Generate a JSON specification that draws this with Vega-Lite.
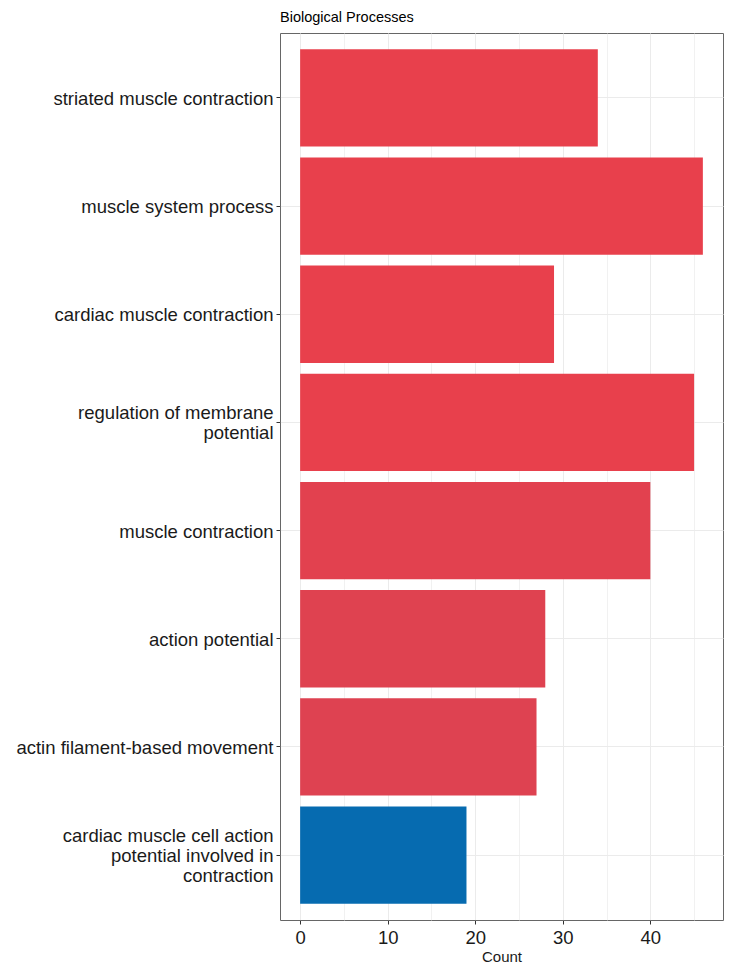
{
  "$schema": "https://vega.github.io/schema/vega-lite/v6.json",
  "width": 443,
  "height": 887,
  "autosize": {"type": "none"},
  "padding": {"left": 280, "top": 33, "right": 7, "bottom": 46},
  "background": "white",
  "title": {
    "text": "Biological Processes",
    "anchor": "start",
    "frame": "group",
    "font": "Liberation Sans",
    "fontSize": 14.5,
    "fontWeight": "normal",
    "color": "#000000",
    "offset": 8
  },
  "data": {
    "values": [
      {"Description": "striated muscle contraction", "Count": 34, "p_adjust": 0.0},
      {"Description": "muscle system process", "Count": 46, "p_adjust": 0.0},
      {"Description": "cardiac muscle contraction", "Count": 29, "p_adjust": 0.0},
      {"Description": "regulation of membrane\npotential", "Count": 45, "p_adjust": 0.0},
      {"Description": "muscle contraction", "Count": 40, "p_adjust": 0.025},
      {"Description": "action potential", "Count": 28, "p_adjust": 0.04},
      {"Description": "actin filament-based movement", "Count": 27, "p_adjust": 0.045},
      {"Description": "cardiac muscle cell action\npotential involved in\ncontraction", "Count": 19, "p_adjust": 1.0}
    ]
  },
  "mark": {"type": "bar"},
  "encoding": {
    "y": {
      "field": "Description",
      "type": "nominal",
      "sort": null,
      "scale": {"paddingInner": 0.1, "paddingOuter": 0.15},
      "axis": {
        "title": null,
        "domain": false,
        "bandPosition": 0.5,
        "grid": true,
        "gridColor": "#EBEBEB",
        "gridWidth": 1,
        "ticks": true,
        "tickSize": 4,
        "tickColor": "#333333",
        "labelFont": "Liberation Sans",
        "labelFontSize": 18.5,
        "labelColor": "#1a1a1a",
        "labelPadding": 3,
        "labelLimit": 400,
        "labelLineHeight": 20,
        "labelExpr": "split(datum.label, '\\n')",
        "labelOffset": {
          "condition": [
            {"test": "indexof(datum.value, 'involved') >= 0", "value": -19},
            {"test": "indexof(datum.value, 'membrane') >= 0", "value": -9}
          ],
          "value": 1
        }
      }
    },
    "x": {
      "field": "Count",
      "type": "quantitative",
      "scale": {"domain": [-2.3, 48.3], "nice": false, "zero": false},
      "axis": {
        "title": "Count",
        "titleFont": "Liberation Sans",
        "titleFontSize": 15,
        "titleFontWeight": "normal",
        "titleColor": "#1a1a1a",
        "titlePadding": 3,
        "values": [0, 5, 10, 15, 20, 25, 30, 35, 40, 45],
        "labelExpr": "datum.value % 10 === 0 ? datum.label : ''",
        "labelFont": "Liberation Sans",
        "labelFontSize": 18.5,
        "labelColor": "#1a1a1a",
        "labelPadding": 4,
        "domain": false,
        "grid": true,
        "gridColor": "#EBEBEB",
        "gridWidth": {"condition": {"test": "datum.value % 10 === 0", "value": 1}, "value": 0.7},
        "tickSize": 4,
        "tickColor": "#333333",
        "tickOpacity": {"condition": {"test": "datum.value % 10 === 0", "value": 1}, "value": 0}
      }
    },
    "color": {
      "field": "p_adjust",
      "type": "quantitative",
      "scale": {"domain": [0, 1], "range": ["#E8404C", "#066BB0"], "interpolate": "rgb"},
      "legend": null
    }
  },
  "config": {
    "view": {"stroke": "#666666", "strokeWidth": 1}
  }
}
